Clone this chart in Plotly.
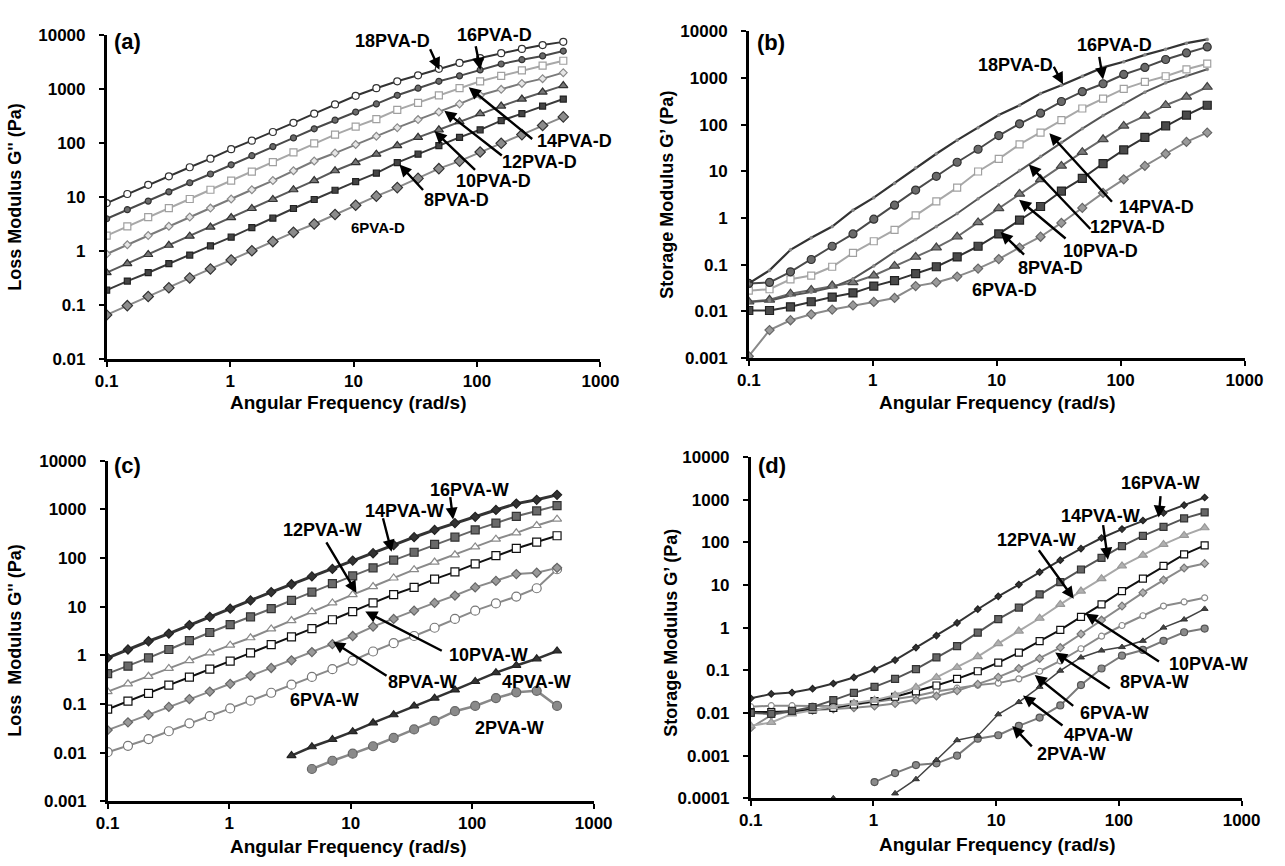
import plotly.graph_objects as go

W, H = 1285, 866

# ---------------- data ----------------
freq = [0.1, 0.147, 0.217, 0.319, 0.471, 0.693, 1.02, 1.5, 2.22, 3.26, 4.8, 7.08,
        10.4, 15.3, 22.6, 33.3, 49.1, 72.2, 106, 157, 231, 340, 500]

x_ticks = [0.1, 1, 10, 100, 1000]
x_tick_text = ["0.1", "1", "10", "100", "1000"]

# (a) loss modulus, PVA-D
a_18 = [7.8, 11.5, 17, 24.5, 36, 52, 78, 112, 162, 240, 355, 525, 760, 1050, 1410, 1820, 2400, 3090, 3800, 4680, 5620, 6610, 7590]
a_16 = [4.0, 5.9, 8.5, 12.6, 18.6, 27, 40, 59, 87, 126, 186, 269, 380, 537, 776, 1050, 1410, 1780, 2290, 2950, 3550, 4170, 5130]
a_14 = [1.95, 2.9, 4.3, 6.3, 9.3, 13.8, 20.4, 30, 45, 68, 100, 145, 204, 282, 417, 562, 776, 1050, 1410, 1780, 2240, 2750, 3390]
a_12 = [0.89, 1.32, 1.95, 2.9, 4.3, 6.3, 9.3, 13.8, 20.4, 31, 47, 66, 95, 135, 195, 275, 380, 537, 776, 1000, 1290, 1580, 2040]
a_10 = [0.40, 0.59, 0.87, 1.29, 1.9, 2.8, 4.2, 6.2, 9.1, 13.8, 20.4, 31, 44, 63, 91, 129, 178, 251, 355, 490, 661, 891, 1175]
a_8 = [0.19, 0.28, 0.40, 0.59, 0.85, 1.26, 1.82, 2.75, 4.1, 6.2, 9.1, 13.5, 19.5, 28, 44, 63, 91, 129, 178, 263, 355, 490, 661]
a_6 = [0.066, 0.098, 0.145, 0.21, 0.32, 0.47, 0.69, 1.02, 1.51, 2.24, 3.2, 4.8, 7.1, 10.5, 15.1, 22.4, 33.9, 46.8, 69, 100, 145, 214, 309]

# (b) storage modulus, PVA-D
b_18 = [0.040, 0.076, 0.21, 0.38, 0.66, 1.48, 2.75, 5.6, 12, 24, 47, 87, 162, 263, 468, 708, 1100, 1700, 2240, 3160, 4170, 5620, 6760]
b_16 = [0.040, 0.042, 0.071, 0.13, 0.25, 0.46, 0.95, 1.9, 4.0, 7.9, 15.8, 30, 59, 105, 178, 316, 513, 759, 1200, 1700, 2510, 3470, 4680]
b_14 = [0.028, 0.030, 0.049, 0.059, 0.091, 0.18, 0.32, 0.56, 1.15, 2.3, 4.5, 10, 18.6, 38, 68, 126, 224, 363, 589, 832, 1100, 1550, 2040]
b_12 = [0.016, 0.017, 0.022, 0.026, 0.033, 0.050, 0.095, 0.19, 0.35, 0.66, 1.26, 2.6, 5.2, 10.5, 21, 42, 83, 158, 282, 501, 794, 1120, 1550]
b_10 = [0.0162, 0.0178, 0.024, 0.029, 0.036, 0.042, 0.059, 0.095, 0.148, 0.234, 0.40, 0.81, 1.62, 3.3, 6.8, 13.2, 26, 49, 95, 155, 263, 398, 646]
b_8 = [0.0105, 0.0105, 0.0126, 0.0162, 0.0204, 0.025, 0.035, 0.046, 0.065, 0.091, 0.148, 0.25, 0.46, 0.91, 1.78, 3.8, 7.1, 14.8, 29, 54, 95, 162, 263]
b_6 = [0.0011, 0.004, 0.0065, 0.0087, 0.011, 0.0135, 0.016, 0.0195, 0.035, 0.042, 0.056, 0.083, 0.133, 0.234, 0.40, 0.79, 1.66, 3.47, 6.8, 13.2, 24, 43, 68]

# (c) loss modulus, PVA-W
c_16 = [0.89, 1.32, 1.95, 2.8, 4.2, 6.2, 9.1, 13.5, 20, 29, 42, 60, 89, 126, 186, 269, 380, 525, 708, 977, 1320, 1580, 2000]
c_14 = [0.42, 0.60, 0.89, 1.32, 2.0, 2.95, 4.3, 6.2, 9.1, 13.5, 20, 30, 43, 63, 91, 132, 191, 269, 380, 525, 724, 933, 1200]
c_12 = [0.18, 0.26, 0.37, 0.54, 0.78, 1.12, 1.62, 2.3, 3.5, 5.2, 7.9, 12, 17.8, 26, 39, 58, 83, 117, 170, 245, 331, 468, 631]
c_10 = [0.078, 0.115, 0.166, 0.245, 0.355, 0.52, 0.76, 1.12, 1.66, 2.4, 3.55, 5.4, 7.9, 12, 17.8, 25, 37, 52, 76, 112, 158, 214, 288]
c_8 = [0.029, 0.042, 0.060, 0.087, 0.126, 0.18, 0.26, 0.38, 0.55, 0.79, 1.17, 1.7, 2.5, 3.9, 5.6, 8.3, 12, 17, 25, 34, 47, 50, 63]
c_6 = [0.0102, 0.0138, 0.019, 0.0275, 0.040, 0.056, 0.081, 0.117, 0.17, 0.25, 0.36, 0.52, 0.78, 1.2, 1.78, 2.5, 3.7, 5.6, 8.3, 11.7, 16.2, 24, 59]
c_4 = [None, None, None, None, None, None, None, None, None, 0.0087, 0.0132, 0.0186, 0.027, 0.041, 0.060, 0.091, 0.132, 0.195, 0.29, 0.44, 0.62, 0.85, 1.23]
c_2 = [None, None, None, None, None, None, None, None, None, None, 0.0046, 0.0068, 0.0095, 0.0135, 0.020, 0.030, 0.045, 0.071, 0.091, 0.132, 0.174, 0.186, 0.091]

# (d) storage modulus, PVA-W
d_16 = [0.022, 0.028, 0.030, 0.037, 0.049, 0.068, 0.105, 0.174, 0.34, 0.65, 1.29, 2.7, 5.4, 10.2, 20, 38, 71, 126, 204, 324, 490, 741, 1120]
d_14 = [0.010, 0.0095, 0.0112, 0.0138, 0.020, 0.0295, 0.041, 0.063, 0.107, 0.20, 0.37, 0.76, 1.58, 2.95, 6.0, 11.7, 23, 43, 81, 141, 229, 363, 501]
d_12 = [0.005, 0.006, 0.0095, 0.0117, 0.0141, 0.017, 0.020, 0.026, 0.040, 0.068, 0.117, 0.21, 0.42, 0.83, 1.66, 3.5, 7.2, 14, 28, 50, 89, 145, 219]
d_10 = [0.0105, 0.0105, 0.011, 0.012, 0.0132, 0.0158, 0.019, 0.024, 0.032, 0.044, 0.063, 0.095, 0.151, 0.26, 0.48, 0.89, 1.78, 3.5, 7.2, 14, 28, 52, 85]
d_8 = [0.0045, 0.0089, 0.011, 0.0115, 0.0123, 0.0132, 0.0145, 0.0166, 0.020, 0.025, 0.033, 0.047, 0.069, 0.11, 0.19, 0.34, 0.71, 1.5, 3.2, 6.6, 13, 25, 32]
d_6 = [0.014, 0.0148, 0.0148, 0.0145, 0.0148, 0.0158, 0.018, 0.021, 0.025, 0.032, 0.038, 0.045, 0.050, 0.063, 0.095, 0.166, 0.32, 0.63, 1.12, 1.9, 3.2, 4.0, 5.0]
d_4 = [None, None, None, None, 0.0001, None, None, 0.00013, 0.00028, 0.00079, 0.0023, 0.0029, 0.0093, 0.018, 0.041, 0.098, 0.20, 0.29, 0.35, 0.49, 1.0, 1.55, 2.75]
d_2 = [None, None, None, None, None, None, 0.00024, 0.00039, 0.0006, 0.00066, 0.001, 0.0025, 0.003, 0.005, 0.0078, 0.015, 0.045, 0.11, 0.22, 0.30, 0.49, 0.78, 0.95]

# ---------------- figure ----------------
FONT = "Liberation Sans, Arial, Helvetica, sans-serif"
fig = go.Figure()


def add(ax, y, lc, lw, sym, size, fill, edge, ew=1.2, clip=True):
    fig.add_trace(go.Scatter(
        x=freq, y=y, mode="lines+markers", xaxis="x" + ax, yaxis="y" + ax,
        line=dict(color=lc, width=lw),
        marker=dict(symbol=sym, size=size, color=fill, line=dict(color=edge, width=ew)),
        connectgaps=False, showlegend=False, cliponaxis=clip, hoverinfo="skip"))


# (a)
add("", a_6, "#8a8a8a", 2, "diamond", 8, "#8c8c8c", "#333333")
add("", a_8, "#3a3a3a", 2, "square", 6, "#444444", "#222222")
add("", a_10, "#5a5a5a", 2, "triangle-up", 8, "#777777", "#333333")
add("", a_12, "#7a7a7a", 2, "diamond", 6, "#e6e6e6", "#8a8a8a")
add("", a_14, "#a8a8a8", 2, "square", 7, "#ffffff", "#a0a0a0")
add("", a_16, "#4a4a4a", 2, "circle", 6, "#6a6a6a", "#333333")
add("", a_18, "#333333", 2, "circle", 7, "#ffffff", "#333333")

# (b)
add("2", b_6, "#8a8a8a", 2, "diamond", 7, "#9a9a9a", "#666666")
add("2", b_8, "#333333", 2, "square", 8, "#4a4a4a", "#222222")
add("2", b_10, "#6a6a6a", 2, "triangle-up", 9, "#7a7a7a", "#444444")
add("2", b_12, "#555555", 2, "circle", 3, "#888888", "#888888", 0.5)
add("2", b_14, "#a8a8a8", 2, "square", 7, "#ffffff", "#a0a0a0")
add("2", b_16, "#4a4a4a", 2, "circle", 8, "#6a6a6a", "#333333")
add("2", b_18, "#333333", 2.2, "circle", 3, "#888888", "#888888", 0.5)

# (c)
add("3", c_2, "#888888", 2.5, "circle", 9, "#8a8a8a", "#666666")
add("3", c_4, "#333333", 2.5, "triangle-up", 8, "#333333", "#222222")
add("3", c_6, "#8a8a8a", 2, "circle", 9, "#ffffff", "#777777")
add("3", c_8, "#8a8a8a", 2, "diamond", 7, "#9a9a9a", "#666666")
add("3", c_10, "#111111", 2, "square", 8, "#ffffff", "#111111")
add("3", c_12, "#8a8a8a", 2, "triangle-up", 8, "#ffffff", "#8a8a8a")
add("3", c_14, "#666666", 2, "square", 8, "#6a6a6a", "#333333")
add("3", c_16, "#333333", 3, "diamond", 7, "#333333", "#222222")

# (d)
add("4", d_2, "#7a7a7a", 2, "circle", 7, "#8a8a8a", "#555555")
add("4", d_4, "#444444", 1.5, "triangle-up", 6, "#444444", "#333333", 1, False)
add("4", d_6, "#8a8a8a", 2, "circle", 6, "#ffffff", "#8a8a8a")
add("4", d_8, "#8a8a8a", 2, "diamond", 6, "#b0b0b0", "#777777")
add("4", d_10, "#111111", 2, "square", 7, "#ffffff", "#111111")
add("4", d_12, "#a8a8a8", 2, "triangle-up", 8, "#b0b0b0", "#999999")
add("4", d_14, "#555555", 2, "square", 7, "#666666", "#333333")
add("4", d_16, "#333333", 2, "diamond", 5, "#333333", "#222222")


def xd(x0, x1):
    return [x0 / W, x1 / W]


def yd(ytop, ybot):
    return [1 - ybot / H, 1 - ytop / H]


def xaxis(dom, anchor):
    return dict(type="log", range=[-1, 3], domain=dom, anchor=anchor,
                showline=True, linecolor="black", linewidth=2.5,
                ticks="outside", ticklen=5, tickwidth=2, tickcolor="black",
                tickvals=x_ticks, ticktext=x_tick_text,
                tickfont=dict(family=FONT, size=17, color="black", weight="bold"),
                showgrid=False, zeroline=False, ticklabelstandoff=0)


def yaxis(dom, anchor, lo, hi):
    vals = [10 ** k for k in range(lo, hi + 1)]
    texts = [("%g" % v) if v < 1 else str(int(v)) for v in vals]
    texts = [t if "e" not in t else ("%.4f" % v).rstrip("0") for t, v in zip(texts, vals)]
    return dict(type="log", range=[lo, hi], domain=dom, anchor=anchor,
                showline=True, linecolor="black", linewidth=2.5,
                ticks="outside", ticklen=5, tickwidth=2, tickcolor="black",
                tickvals=vals, ticktext=texts,
                tickfont=dict(family=FONT, size=17, color="black", weight="bold"),
                showgrid=False, zeroline=False, ticklabelstandoff=10)


fig.update_layout(
    width=W, height=H, margin=dict(l=0, r=0, t=0, b=0),
    paper_bgcolor="white", plot_bgcolor="white", showlegend=False,
    xaxis=xaxis(xd(97, 603), "y"), yaxis=yaxis(yd(27, 358), "x", -2, 4),
    xaxis2=xaxis(xd(755, 1263), "y2"), yaxis2=yaxis(yd(23, 357), "x2", -3, 4),
    xaxis3=xaxis(xd(98, 596), "y3"), yaxis3=yaxis(yd(462, 810), "x3", -3, 4),
    xaxis4=xaxis(xd(757, 1260), "y4"), yaxis4=yaxis(yd(458, 807), "x4", -4, 4),
)

ann = []


def T(text, x, y, size=18, angle=0):
    ann.append(dict(text="<b>" + text + "</b>", x=x / W, y=1 - y / H, xref="paper", yref="paper",
                    xanchor="center", yanchor="middle", showarrow=False, textangle=angle,
                    font=dict(family=FONT, size=size, color="black")))


def A(tail, tip):
    ann.append(dict(text="", x=tip[0] / W, y=1 - tip[1] / H, xref="paper", yref="paper",
                    ax=tail[0] - tip[0], ay=tail[1] - tip[1], axref="pixel", ayref="pixel",
                    showarrow=True, arrowhead=2, arrowsize=1, arrowwidth=2.4,
                    arrowcolor="black", standoff=0, startstandoff=0))


# panel letters
T("(a)", 118, 33, 22)
T("(b)", 778, 34, 22)
T("(c)", 118, 467, 22)
T("(d)", 779, 467, 22)

# axis titles
T("Loss Modulus G'' (Pa)", 3, 192, 18, -90)
T("Storage Modulus G\u2019 (Pa)", 671, 190, 18, -90)
T("Loss\u00a0 Modulus G'' (Pa)", 3, 645, 18, -90)
T("Storage Modulus G\u2019 (Pa)", 675, 638, 18, -90)
T("Angular Frequency (rad/s)", 345, 402, 19)
T("Angular Frequency (rad/s)", 1010, 402, 19)
T("Angular Frequency (rad/s)", 345, 856, 19)
T("Angular Frequency (rad/s)", 1010, 854, 19)

# (a) labels
T("18PVA-D", 390, 33); A((428, 40), (438, 62))
T("16PVA-D", 494, 27); A((475, 37), (480, 62))
T("14PVA-D", 576, 135); A((533, 133), (468, 80))
T("12PVA-D", 541, 156); A((502, 150), (443, 104))
T("10PVA-D", 493, 176); A((475, 165), (433, 125))
T("8PVA-D", 455, 195); A((422, 186), (397, 159))
T("6PVA-D", 375, 223, 15)

# (b) labels
T("18PVA-D", 1028, 57); A((1067, 58), (1077, 77))
T("16PVA-D", 1130, 37); A((1114, 48), (1118, 72))
T("14PVA-D", 1173, 202); A((1127, 197), (1063, 127))
T("12PVA-D", 1143, 223); A((1105, 225), (1042, 159))
T("10PVA-D", 1115, 247); A((1080, 235), (1032, 195))
T("8PVA-D", 1064, 265); A((1038, 252), (1013, 228))
T("6PVA-D", 1017, 287)

# (c) labels
T("16PVA-W", 469, 492); A((449, 498), (452, 522))
T("14PVA-W", 402, 513); A((380, 520), (389, 555))
T("12PVA-W", 318, 533); A((322, 545), (353, 597))
T("10PVA-W", 488, 660); A((440, 656), (362, 616))
T("8PVA-W", 421, 688); A((384, 682), (329, 647))
T("4PVA-W", 537, 688)
T("6PVA-W", 320, 707)
T("2PVA-W", 510, 735)

# (d) labels
T("16PVA-W", 1177, 485); A((1177, 497), (1175, 520))
T("14PVA-W", 1115, 518); A((1118, 527), (1123, 563))
T("12PVA-W", 1050, 543); A((1052, 553), (1088, 603))
T("10PVA-W", 1226, 670); A((1175, 667), (1100, 618))
T("8PVA-W", 1171, 688); A((1125, 695), (1069, 658))
T("6PVA-W", 1130, 720); A((1088, 713), (1048, 681))
T("4PVA-W", 1113, 742); A((1077, 733), (1036, 702))
T("2PVA-W", 1086, 762); A((1046, 755), (1025, 733))

fig.update_layout(annotations=ann)

fig.write_html("out.html", config={"displayModeBar": False},
               post_script="document.body.style.margin='0px';")
